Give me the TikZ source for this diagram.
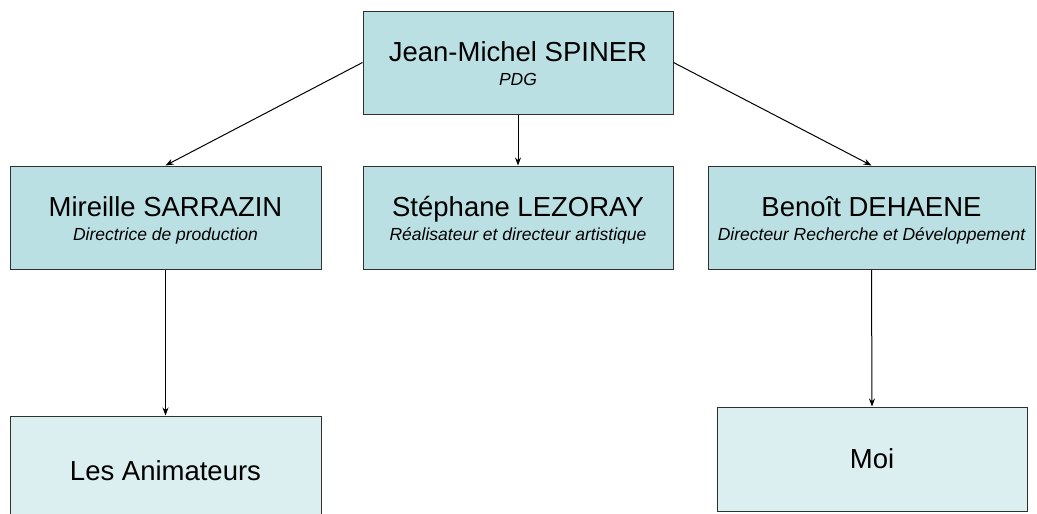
\documentclass[tikz,border=0pt]{standalone}
\usepackage{fontspec}
\setmainfont{Liberation Sans}
\usetikzlibrary{arrows.meta}
\definecolor{topfill}{HTML}{BBE0E3}
\definecolor{lowfill}{HTML}{DBEEF0}
\definecolor{edge}{HTML}{303030}
\newcommand{\nm}{\fontsize{27.5}{24}\selectfont\rule{0pt}{28pt}}
\newcommand{\sub}{\fontsize{17.5}{24}\selectfont\itshape\rule[-6pt]{0pt}{0pt}}
\tikzset{
  boxtop/.style={draw=edge, line width=1pt, fill=topfill, rectangle, inner sep=0pt,
    minimum width=310pt, minimum height=103pt, align=center, font=\fontsize{10}{24}\selectfont},
  boxlow/.style={draw=edge, line width=1pt, fill=lowfill, rectangle, inner sep=0pt,
    minimum width=310pt, minimum height=104pt, align=center},
  link/.style={draw=black, line width=1pt, -{Stealth[length=8pt,width=6pt]}},
}
\begin{document}
\begin{tikzpicture}[x=1pt,y=-1pt]
\useasboundingbox (0,0) rectangle (1037,514);
\node[boxtop] (pdg) at (518,62.5) {\nm Jean-Michel SPINER\\\sub PDG};
\node[boxtop, minimum width=311pt] (mir) at (165.5,217.5) {\nm Mireille SARRAZIN\\\sub Directrice de production};
\node[boxtop] (ste) at (518,217.5) {\nm Stéphane LEZORAY\\\sub Réalisateur et directeur artistique};
\node[boxtop, minimum width=327pt] (ben) at (871.5,217.5) {\nm Benoît DEHAENE\\\sub Directeur Recherche et Développement};
\node[boxlow, minimum width=311pt, minimum height=110pt] (ani) at (165.5,471) {\fontsize{27.5}{30}\selectfont Les Animateurs};
\node[boxlow] (moi) at (872,459) {\fontsize{27.5}{30}\selectfont Moi};
\draw[link] (pdg.west) -- (mir.north);
\draw[link] (pdg.south) -- (ste.north);
\draw[link] (pdg.east) -- (ben.north);
\draw[link] (mir.south) -- (ani.north);
\draw[link] (ben.south) -- (moi.north);
\end{tikzpicture}
\end{document}
